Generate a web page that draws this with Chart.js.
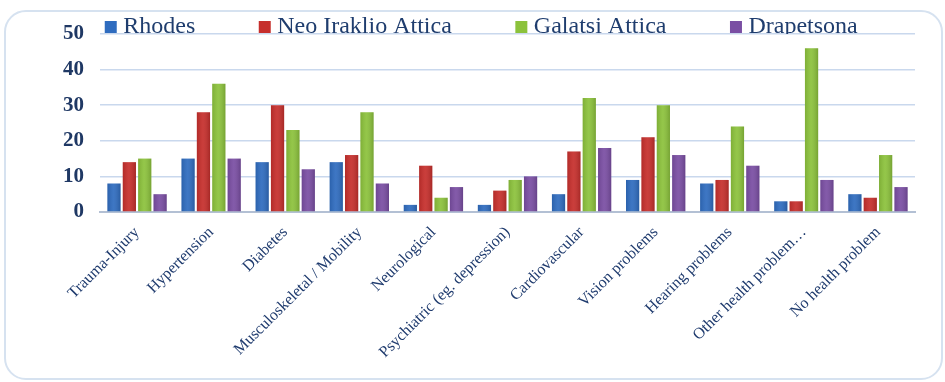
<!DOCTYPE html>
<html>
<head>
<meta charset="utf-8">
<script src="https://cdn.jsdelivr.net/npm/chart.js@4/dist/chart.umd.min.js"></script>
<style>
  html, body { margin: 0; padding: 0; background: #ffffff; }
  #wrap { position: relative; width: 945px; height: 382px; }
  #frame {
    position: absolute; left: 4px; top: 10px; width: 935px; height: 366px;
    border: 2px solid #d6e2f0; border-radius: 22px; box-sizing: content-box;
  }
  #c { position: absolute; left: 0; top: 0; }
</style>
</head>
<body>
<div id="wrap">
  <div id="frame"></div>
  <canvas id="c" width="945" height="382"></canvas>
</div>
<script>
// Health problems reported, by location
const categories = [
  'Trauma-Injury', 'Hypertension', 'Diabetes', 'Musculoskeletal / Mobility',
  'Neurological', 'Psychiatric (eg. depression)', 'Cardiovascular',
  'Vision problems', 'Hearing problems', 'Other health problem\u2026', 'No health problem'
];
const rhodes      = [8, 15, 14, 14, 2, 2, 5, 9, 8, 3, 5];
const neoIraklio  = [14, 28, 30, 16, 13, 6, 17, 21, 9, 3, 4];
const galatsi     = [15, 36, 23, 28, 4, 9, 32, 30, 24, 46, 16];
const drapetsona  = [5, 15, 12, 8, 7, 10, 18, 16, 13, 9, 7];
const yTicks = [0, 10, 20, 30, 40, 50];

const serif = '"Liberation Serif", "Times New Roman", serif';
const navy = '#1f3864';

function series(label, data, fill) {
  return {
    label, data,
    backgroundColor: fill,
    borderWidth: 0,
    categoryPercentage: 0.83,
    barPercentage: 0.86
  };
}

// Soft side shading on each bar for a rounded look
const barShading = {
  id: 'barShading',
  afterDatasetsDraw(chart) {
    const ctx = chart.ctx;
    chart.data.datasets.forEach((ds, i) => {
      const meta = chart.getDatasetMeta(i);
      meta.data.forEach(bar => {
        const { x, y, base, width } = bar.getProps(['x', 'y', 'base', 'width'], true);
        const left = x - width / 2;
        const g = ctx.createLinearGradient(left, 0, left + width, 0);
        g.addColorStop(0, 'rgba(0,0,0,0.10)');
        g.addColorStop(0.45, 'rgba(255,255,255,0.07)');
        g.addColorStop(1, 'rgba(0,0,0,0.16)');
        ctx.save();
        ctx.fillStyle = g;
        ctx.fillRect(left, Math.min(y, base), width, Math.abs(base - y));
        ctx.restore();
      });
    });
  }
};

new Chart(document.getElementById('c'), {
  type: 'bar',
  data: {
    labels: categories,
    datasets: [
      series('Rhodes', rhodes, '#2f6cbf'),
      series('Neo Iraklio Attica', neoIraklio, '#c62f2c'),
      series('Galatsi Attica', galatsi, '#8cc23c'),
      series('Drapetsona', drapetsona, '#7a4ea3')
    ]
  },
  plugins: [barShading],
  options: {
    responsive: false,
    animation: false,
    layout: { padding: { left: 23, right: 0, top: -54, bottom: 0 } },
    plugins: {
      tooltip: { enabled: false },
      legend: {
        position: 'top',
        maxHeight: 88,
        labels: {
          usePointStyle: true,
          pointStyle: 'rect',
          boxWidth: 1,
          boxHeight: 12,
          padding: 69,
          color: '#1f3d6e',
          font: { family: serif, size: 24 }
        }
      }
    },
    scales: {
      x: {
        grid: { display: false, drawTicks: false },
        border: { display: true, color: '#b3c0d4', width: 2 },
        ticks: {
          autoSkip: false,
          minRotation: 45,
          maxRotation: 45,
          padding: 11,
          color: '#1f3b6e',
          font: { family: serif, size: 16 }
        },
        afterFit(scale) { scale.height = 170; }
      },
      y: {
        min: 0,
        max: 50,
        afterBuildTicks(scale) { scale.ticks = yTicks.map(v => ({ value: v })); },
        grid: { color: '#c9d8ed', lineWidth: 1.5, drawTicks: false },
        border: { display: false },
        ticks: {
          padding: 16,
          color: navy,
          font: { family: serif, size: 21, weight: 'bold' }
        },
        afterFit(scale) { scale.width = 77; }
      },
      // empty right-hand margin beside the plot
      yRight: {
        position: 'right',
        min: 0,
        max: 50,
        grid: { display: false, drawTicks: false },
        border: { display: false },
        ticks: { display: false },
        afterFit(scale) { scale.width = 30; }
      }
    }
  }
});
</script>
</body>
</html>
